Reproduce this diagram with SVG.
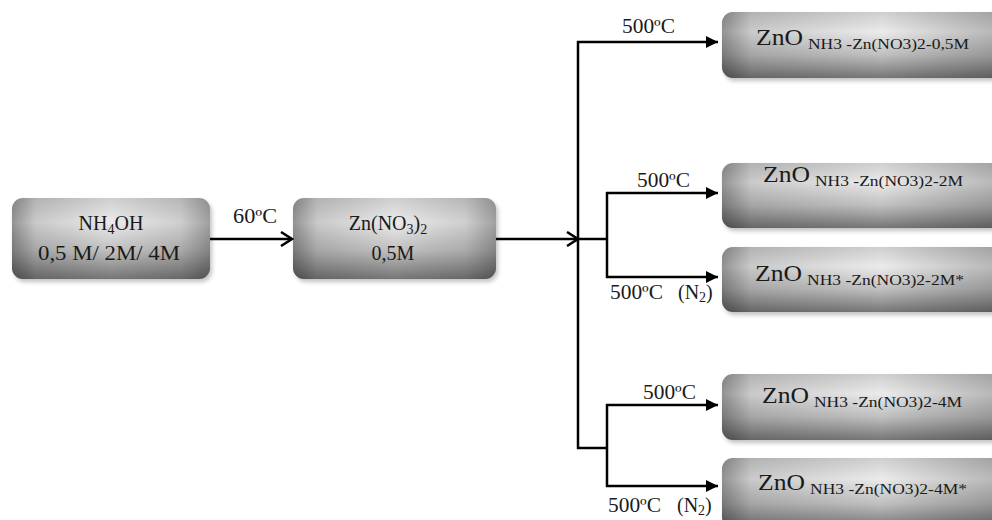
<svg xmlns="http://www.w3.org/2000/svg" width="992" height="520" viewBox="0 0 992 520">
<defs>
<linearGradient id="gv" x1="0" y1="0" x2="0" y2="1">
<stop offset="0" stop-color="#cfcfcf"/>
<stop offset="0.3" stop-color="#ebebeb"/>
<stop offset="0.65" stop-color="#c0c0c0"/>
<stop offset="1" stop-color="#767676"/>
</linearGradient>
<linearGradient id="gh" x1="0" y1="0" x2="1" y2="0">
<stop offset="0" stop-color="#000" stop-opacity="0.38"/>
<stop offset="0.12" stop-color="#000" stop-opacity="0.14"/>
<stop offset="0.5" stop-color="#000" stop-opacity="0"/>
<stop offset="0.85" stop-color="#000" stop-opacity="0.12"/>
<stop offset="1" stop-color="#000" stop-opacity="0.32"/>
</linearGradient>
<linearGradient id="ghr" x1="0" y1="0" x2="1" y2="0">
<stop offset="0" stop-color="#000" stop-opacity="0.38"/>
<stop offset="0.1" stop-color="#000" stop-opacity="0.14"/>
<stop offset="0.55" stop-color="#000" stop-opacity="0"/>
<stop offset="1" stop-color="#000" stop-opacity="0.25"/>
</linearGradient>
<filter id="sh" x="-10%" y="-20%" width="120%" height="150%">
<feGaussianBlur stdDeviation="2"/>
</filter>
<marker id="open" markerUnits="userSpaceOnUse" markerWidth="16" markerHeight="16" refX="13" refY="8" orient="auto">
<path d="M2,1 L13,8 L2,15" fill="none" stroke="#000" stroke-width="2.5"/>
</marker>
<marker id="fill" markerUnits="userSpaceOnUse" markerWidth="14" markerHeight="14" refX="12" refY="7" orient="auto">
<path d="M0,1 L12,7 L0,13 Z" fill="#000"/>
</marker>
</defs>
<style>
.shadow{fill:#9a9a9a;opacity:0.6;filter:url(#sh)}
.base{fill:url(#gv)}
.ov{fill:url(#gh)}
.ovr{fill:url(#ghr)}
text{font-family:"Liberation Serif","Times New Roman",serif;fill:#1a1a1a}
.t20{font-size:20px}
.zno{font-size:24px}
.sub{font-size:14.5px}
.conn path{fill:none;stroke:#000;stroke-width:2.5}
</style>

<g id="node-nh4oh">
<rect class="shadow" x="14" y="201" width="198" height="81" rx="11"/>
<rect class="base" x="12" y="198" width="198" height="81" rx="11"/>
<rect class="ov" x="12" y="198" width="198" height="81" rx="11"/>
<text class="t20" x="111" y="230" text-anchor="middle" font-size="21">NH<tspan font-size="14" dy="4">4</tspan><tspan dy="-4">OH</tspan></text>
<text class="t20" x="38" y="260" textLength="142" lengthAdjust="spacingAndGlyphs">0,5 M/ 2M/ 4M</text>
</g>

<g id="node-znno3">
<rect class="shadow" x="295" y="201" width="203" height="81" rx="11"/>
<rect class="base" x="293" y="198" width="203" height="81" rx="11"/>
<rect class="ov" x="293" y="198" width="203" height="81" rx="11"/>
<text class="t20" x="388" y="230" text-anchor="middle" font-size="21">Zn(NO<tspan font-size="14" dy="4">3</tspan><tspan dy="-4">)</tspan><tspan font-size="14" dy="4">2</tspan></text>
<text class="t20" x="393" y="260" text-anchor="middle">0,5M</text>
</g>

<g id="node-zno-05m">
<rect class="shadow" x="724" y="15" width="290" height="66" rx="11"/>
<rect class="base" x="722" y="12" width="290" height="66" rx="11"/>
<rect class="ovr" x="722" y="12" width="290" height="66" rx="11"/>
<text class="zno" x="756" y="45" textLength="47" lengthAdjust="spacingAndGlyphs">ZnO</text>
<text class="sub" x="808" y="49" textLength="161" lengthAdjust="spacingAndGlyphs">NH3 -Zn(NO3)2-0,5M</text>
</g>

<g id="node-zno-2m">
<rect class="shadow" x="724" y="166" width="290" height="65" rx="11"/>
<rect class="base" x="722" y="163" width="290" height="65" rx="11"/>
<rect class="ovr" x="722" y="163" width="290" height="65" rx="11"/>
<text class="zno" x="763" y="182" textLength="47" lengthAdjust="spacingAndGlyphs">ZnO</text>
<text class="sub" x="815" y="186" textLength="148" lengthAdjust="spacingAndGlyphs">NH3 -Zn(NO3)2-2M</text>
</g>

<g id="node-zno-2m-star">
<rect class="shadow" x="724" y="250" width="290" height="65" rx="11"/>
<rect class="base" x="722" y="247" width="290" height="65" rx="11"/>
<rect class="ovr" x="722" y="247" width="290" height="65" rx="11"/>
<text class="zno" x="755" y="281" textLength="47" lengthAdjust="spacingAndGlyphs">ZnO</text>
<text class="sub" x="807" y="285" textLength="157" lengthAdjust="spacingAndGlyphs">NH3 -Zn(NO3)2-2M*</text>
</g>

<g id="node-zno-4m">
<rect class="shadow" x="724" y="377" width="290" height="66" rx="11"/>
<rect class="base" x="722" y="374" width="290" height="66" rx="11"/>
<rect class="ovr" x="722" y="374" width="290" height="66" rx="11"/>
<text class="zno" x="762" y="403" textLength="47" lengthAdjust="spacingAndGlyphs">ZnO</text>
<text class="sub" x="814" y="407" textLength="148" lengthAdjust="spacingAndGlyphs">NH3 -Zn(NO3)2-4M</text>
</g>

<g id="node-zno-4m-star">
<rect class="shadow" x="724" y="461" width="290" height="70" rx="11"/>
<rect class="base" x="722" y="458" width="290" height="70" rx="11"/>
<rect class="ovr" x="722" y="458" width="290" height="70" rx="11"/>
<text class="zno" x="758" y="490" textLength="47" lengthAdjust="spacingAndGlyphs">ZnO</text>
<text class="sub" x="810" y="494" textLength="157" lengthAdjust="spacingAndGlyphs">NH3 -Zn(NO3)2-4M*</text>
</g>

<g id="connectors" class="conn">
<path d="M210,239 H292" marker-end="url(#open)"/>
<path d="M496,239 H578" marker-end="url(#open)"/>
<path d="M578,41 V449"/>
<path d="M577,42 H718" marker-end="url(#fill)"/>
<path d="M578,239 H608"/>
<path d="M607,192 V278"/>
<path d="M606,193 H718" marker-end="url(#fill)"/>
<path d="M606,277 H718" marker-end="url(#fill)"/>
<path d="M577,448 H608"/>
<path d="M607,404 V487"/>
<path d="M606,405 H718" marker-end="url(#fill)"/>
<path d="M606,486 H718" marker-end="url(#fill)"/>
</g>

<g id="labels">
<text class="t20" x="233" y="223" textLength="44" lengthAdjust="spacingAndGlyphs">60ºC</text>
<text class="t20" x="622" y="33" textLength="53" lengthAdjust="spacingAndGlyphs">500ºC</text>
<text class="t20" x="637" y="187" textLength="53" lengthAdjust="spacingAndGlyphs">500ºC</text>
<text class="t20" x="610" y="299" textLength="53" lengthAdjust="spacingAndGlyphs">500ºC</text>
<text class="t20" x="678" y="299">(N<tspan font-size="14" dy="3">2</tspan><tspan dy="-3">)</tspan></text>
<text class="t20" x="643" y="399" textLength="53" lengthAdjust="spacingAndGlyphs">500ºC</text>
<text class="t20" x="608" y="512" textLength="53" lengthAdjust="spacingAndGlyphs">500ºC</text>
<text class="t20" x="677" y="512">(N<tspan font-size="14" dy="3">2</tspan><tspan dy="-3">)</tspan></text>
</g>
</svg>
